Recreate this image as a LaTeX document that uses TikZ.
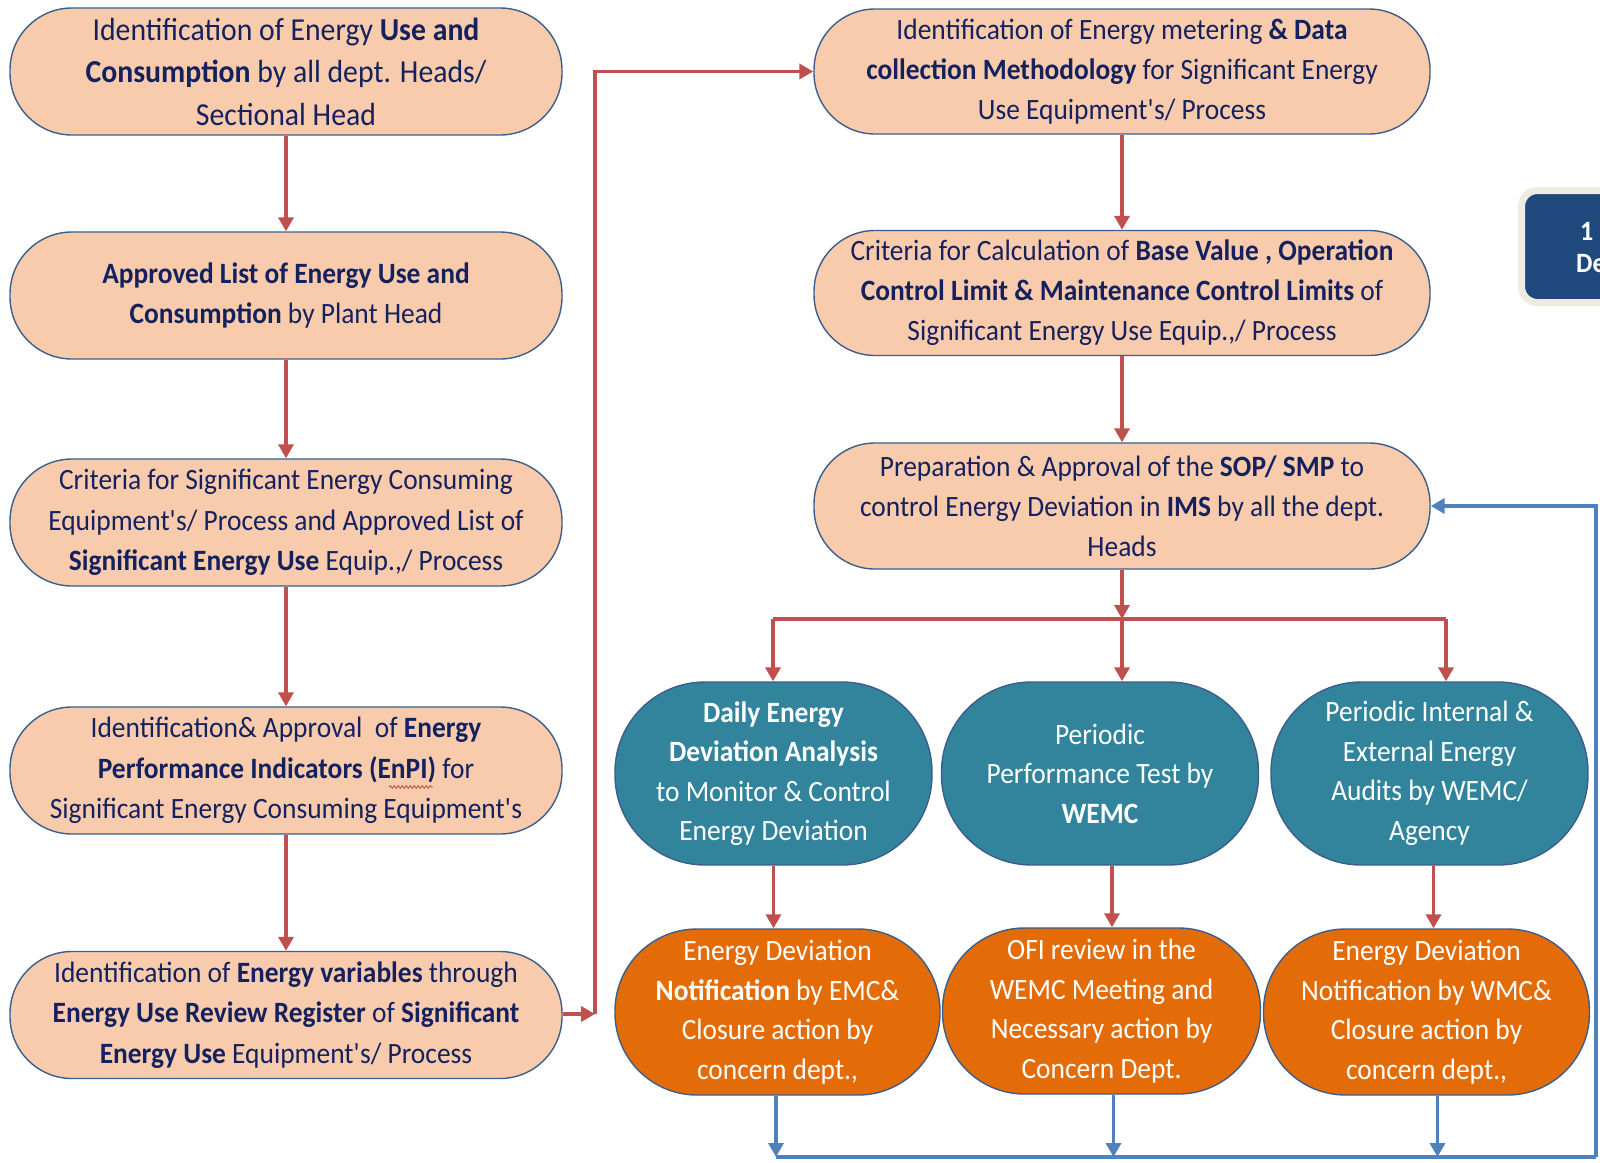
\documentclass[tikz,border=0pt]{standalone}
\usepackage{fontspec}
\setmainfont{Carlito}[FakeStretch=0.93]
\usetikzlibrary{arrows.meta,calc,decorations.pathmorphing}

\definecolor{peach}{HTML}{F8CBAD}
\definecolor{edgeblue}{HTML}{3B5E8C}
\definecolor{ink}{HTML}{14215E}
\definecolor{tealfill}{HTML}{31849B}
\definecolor{orangefill}{HTML}{E36C09}
\definecolor{redline}{HTML}{C0504D}
\definecolor{blueline}{HTML}{4F81BD}
\definecolor{navyfill}{HTML}{1F497D}
\definecolor{creamedge}{HTML}{EEECE1}

\newcommand{\ap}{\textquotesingle}

\tikzset{
  pill/.style={draw=edgeblue, line width=1.4pt, align=center, inner sep=0pt},
  lbox/.style={pill, fill=peach, text=ink, minimum width=552pt, minimum height=127pt,
               rounded corners=62pt, font=\fontsize{29.5}{40.5}\selectfont},
  rbox/.style={pill, fill=peach, text=ink, minimum width=616pt, minimum height=125pt,
               rounded corners=61pt, font=\fontsize{29.5}{40}\selectfont},
  tbox/.style={pill, fill=tealfill, text=white, minimum width=317pt, minimum height=183pt,
               rounded corners=90pt, font=\fontsize{29.5}{39.5}\selectfont},
  obox/.style={pill, fill=orangefill, text=white, minimum width=322pt, minimum height=166pt,
               rounded corners=82pt, font=\fontsize{29.5}{39.5}\selectfont},
  redarrow/.style={draw=redline, line width=3.6pt, -{Triangle[width=15pt,length=14pt]}},
  redpath/.style={draw=redline, line width=3.6pt},
  bluearrow/.style={draw=blueline, line width=3.6pt, -{Triangle[width=15pt,length=14pt]}},
  bluepath/.style={draw=blueline, line width=3.6pt},
  tab/.style={draw=creamedge, fill=navyfill, line width=7pt, rounded corners=16pt,
              minimum width=200pt, minimum height=112pt},
  tabtext/.style={text=white, font=\bfseries\fontsize{28}{32}\selectfont, inner sep=0pt, anchor=west}
}

\begin{document}
\begin{tikzpicture}[x=1pt, y=-1pt]
\useasboundingbox (0,0) rectangle (1600,1162);
\fill[white] (0,0) rectangle (1600,1162);
\begin{scope}
\clip (0,0) rectangle (1600,1162);

% left column
\node[lbox, font=\fontsize{32}{42.5}\selectfont] (L1) at (286,71.5) {Identification of Energy \textbf{Use and}\\
  \textbf{Consumption} by all dept. Heads/\\ Sectional Head};
\node[lbox] (L2) at (286,295.5) {\textbf{Approved List of Energy Use and}\\
  \textbf{Consumption} by Plant Head};
\node[lbox] (L3) at (286,522.5) {Criteria for Significant Energy Consuming\\
  Equipment\ap s/ Process and Approved List of\\
  \textbf{Significant Energy Use} Equip.,/ Process};
\node[lbox] (L4) at (286,770.5) {Identification\& Approval~ of \textbf{Energy}\\
  \textbf{Performance Indicators (EnPI)} for\\
  Significant Energy Consuming Equipment\ap s};
\node[lbox] (L5) at (286,1015) {Identification of \textbf{Energy variables} through\\
  \textbf{Energy Use Review Register} of \textbf{Significant}\\
  \textbf{Energy Use} Equipment\ap s/ Process};

% spell-check squiggle under EnPI
\draw[redline, line width=0.9pt, decorate,
      decoration={snake, amplitude=1.3pt, segment length=4pt}] (389,787) -- (433,787);

% right column
\node[rbox] (R1) at (1122,71.5) {Identification of Energy metering \textbf{\& Data}\\
  \textbf{collection Methodology} for Significant Energy\\
  Use Equipment\ap s/ Process};
\node[rbox] (R2) at (1122,293) {Criteria for Calculation of \textbf{Base Value , Operation}\\
  \textbf{Control Limit \& Maintenance Control Limits} of\\
  Significant Energy Use Equip.,/ Process};
\node[rbox, minimum height=126pt] (R3) at (1122,506) {Preparation \& Approval of the \textbf{SOP/ SMP} to\\
  control Energy Deviation in \textbf{IMS} by all the dept.\\
  Heads};

% monitoring activities
\node[tbox] (C1) at (773.5,773.5) {\textbf{Daily Energy}\\ \textbf{Deviation Analysis}\\
  to Monitor \& Control\\ Energy Deviation};
\node[tbox] (C2) at (1100,773.5) {Periodic\\ Performance Test by\\ \textbf{WEMC}};
\node[tbox] (C3) at (1429.5,773.5) {Periodic Internal \&\\ External Energy\\
  Audits by WEMC/\\ Agency};

% resulting actions
\node[obox, minimum width=325pt] (O1) at (777.5,1012) {Energy Deviation\\
  \textbf{Notification} by EMC\&\\ Closure action by\\ concern dept.,};
\node[obox, minimum width=318pt] (O2) at (1101.5,1011) {OFI review in the\\
  WEMC Meeting and\\ Necessary action by\\ Concern Dept.};
\node[obox, minimum width=326pt] (O3) at (1426.5,1012) {Energy Deviation\\
  Notification by WMC\&\\ Closure action by\\ concern dept.,};

% partly visible tab at the right edge
\node[tab] (T) at (1621.5,246.5) {};
\node[tabtext] (T1) at (1580,231) {1};
\node[tabtext] (T2) at (1576,264) {De};

% left column flow
\draw[redarrow] (L1.south) -- (L2.north);
\draw[redarrow] (L2.south) -- (L3.north);
\draw[redarrow] (L3.south) -- (L4.north);
\draw[redarrow] (L4.south) -- (L5.north);

% link to the right column
\coordinate (U1) at (595,1014);
\draw[redarrow] (L5.east |- U1) -- (U1);
\draw[redarrow] (U1) |- (R1.west);

% right column flow
\draw[redarrow] (R1.south) -- (R2.north);
\draw[redarrow] (R2.south) -- (R3.north);

% branching to the three activities
\coordinate (J) at (1122,619);
\coordinate (K1) at (773,619);
\coordinate (K3) at (1446,619);
\draw[redpath] (K1) -- (K3);
\draw[redarrow] (R3.south) -- (J);
\draw[redarrow] (K1) -- (K1 |- C1.north);
\draw[redarrow] (J) -- (J |- C2.north);
\draw[redarrow] (K3) -- (K3 |- C3.north);

% activities to actions
\draw[redarrow] (C1.south) -- (C1.south |- O1.north);
\coordinate (C2o) at ($(C2.south)+(12,0)$);
\draw[redarrow] (C2o) -- (C2o |- O2.north);
\coordinate (C3o) at ($(C3.south)+(4,0)$);
\draw[redarrow] (C3o) -- (C3o |- O3.north);

% feedback loop
\coordinate (B1) at (776,1157);
\coordinate (B4) at (1596,1157);
\coordinate (B5) at (1596,506);
\coordinate (O2o) at ($(O2.south)+(12,0)$);
\coordinate (O3o) at ($(O3.south)+(11,0)$);
\draw[bluepath] (B1) -- (B4);
\draw[bluearrow] (B4) -- (B5) -- (R3.east);
\draw[bluearrow] (O1.south -| B1) -- (B1);
\draw[bluearrow] (O2o) -- (O2o |- B1);
\draw[bluearrow] (O3o) -- (O3o |- B1);
\end{scope}
\end{tikzpicture}
\end{document}
